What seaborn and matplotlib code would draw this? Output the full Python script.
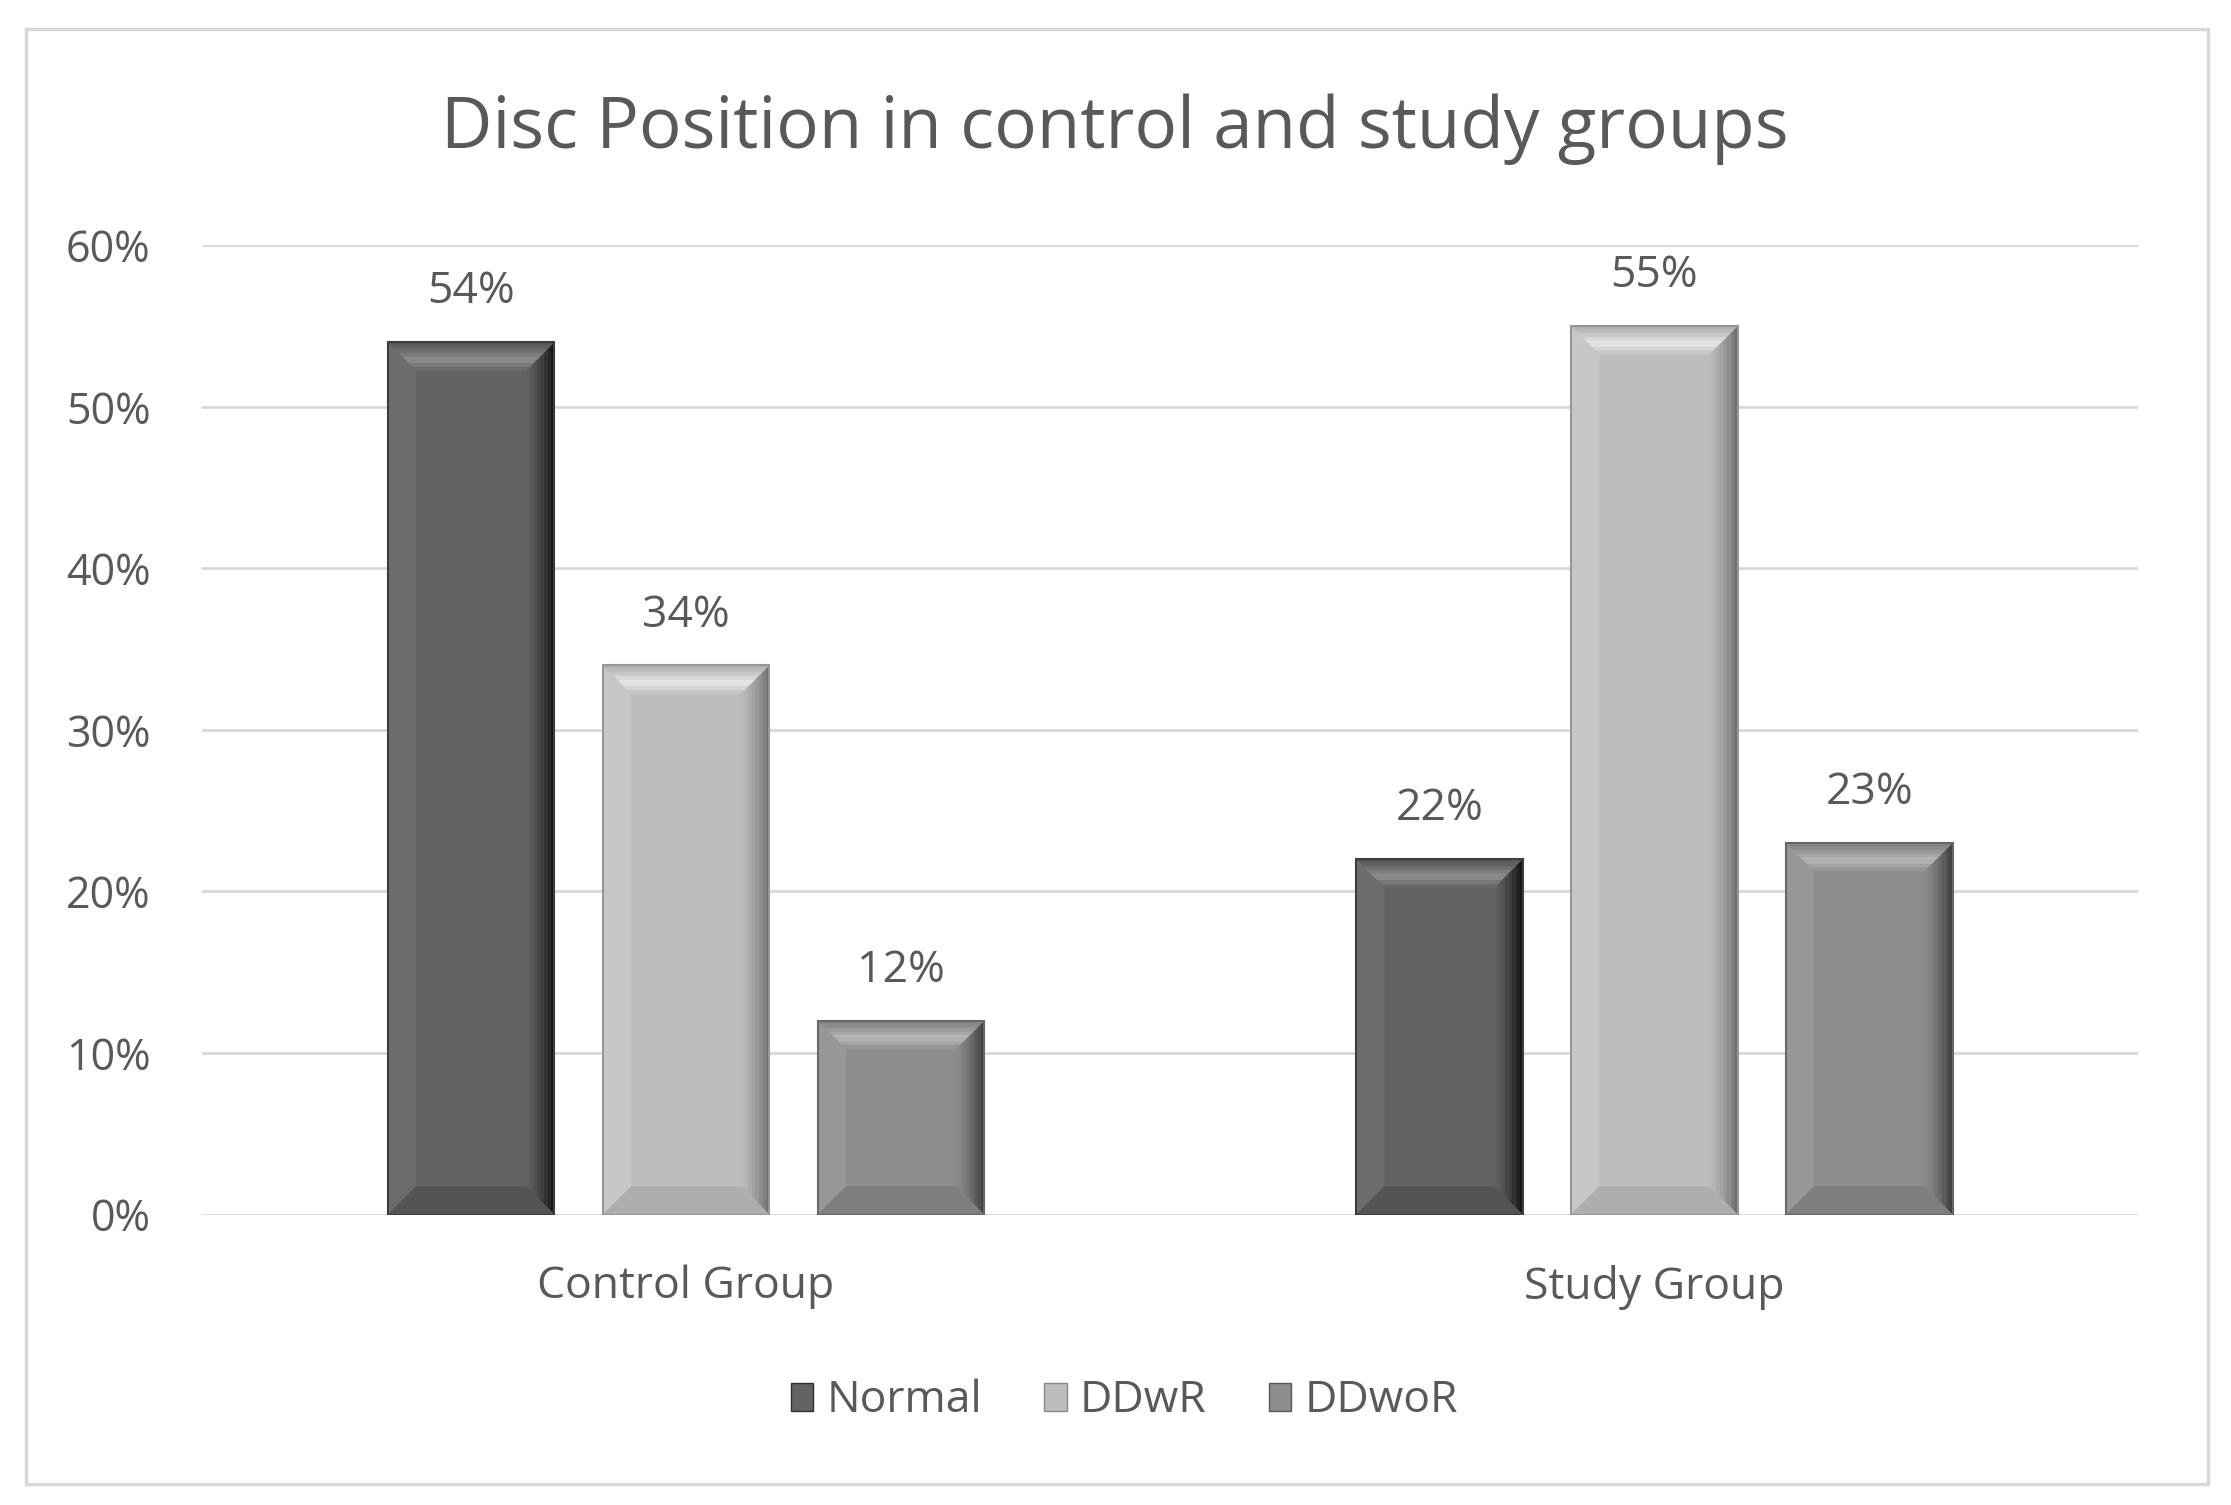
import pandas as pd
import numpy as np
import matplotlib
matplotlib.use("Agg")
import matplotlib.pyplot as plt
import seaborn as sns
from matplotlib.patches import Polygon, Rectangle
from matplotlib.ticker import FuncFormatter

# data
groups = ["Control Group", "Study Group"]
positions = ["Normal", "DDwR", "DDwoR"]
control_vals = [54, 34, 12]
study_vals = [22, 55, 23]
colors = {"Normal": "#636363", "DDwR": "#bdbdbd", "DDwoR": "#8d8d8d"}

rows = []
for g, vals in zip(groups, [control_vals, study_vals]):
    for p, v in zip(positions, vals):
        rows.append({"Group": g, "Position": p, "Value": v / 100})
df = pd.DataFrame(rows)

sns.set_theme(style="white")
plt.rcParams["font.family"] = ["Open Sans", "DejaVu Sans"]
text_col = "#595959"

fig = plt.figure(figsize=(22.31, 15.05), dpi=100)
ax = fig.add_axes([0.0905, 0.193, 0.868, 0.644])

sns.barplot(data=df, x="Group", y="Value", hue="Position", palette=colors,
            width=0.666, gap=0.225, ax=ax, legend=False, saturation=1,
            edgecolor="none")

ax.set_ylim(0, 0.6)
ax.set_xlim(-0.5, 1.5)
ax.set_yticks(np.arange(0, 0.61, 0.1))
ax.yaxis.set_major_formatter(FuncFormatter(lambda v, _: f"{v:.0%}"))
ax.grid(axis="y", color="#d9d9d9", linewidth=2)
ax.set_axisbelow(True)
for s in ax.spines.values():
    s.set_visible(False)
ax.set_xlabel("")
ax.set_ylabel("")
ax.tick_params(axis="y", labelsize=31, labelcolor=text_col, length=0, pad=37)
ax.tick_params(axis="x", labelsize=32, labelcolor=text_col, length=0, pad=36)

# bevel effect on each bar
bars = list(ax.patches)
inv = ax.transData
p0 = inv.transform((0, 0))
p1 = inv.transform((1, 1))
px_x = p1[0] - p0[0]
px_y = p1[1] - p0[1]
for bar in bars:
    x, w, h = bar.get_x(), bar.get_width(), bar.get_height()
    base = np.array(bar.get_facecolor()[:3])
    # bevel corners at 45 degrees in pixel space
    d_px = 0.17 * w * px_x
    d = d_px / px_x
    t = d_px / px_y
    light = np.clip(base + 0.18, 0, 1)
    dark = np.clip(base - 0.3, 0, 1)
    n = 8
    # left strip
    ax.add_patch(Polygon([(x, 0), (x, h), (x + d, h - t), (x + d, t)],
                         closed=True, facecolor=np.clip(base + 0.04, 0, 1),
                         edgecolor="none", zorder=3))
    # right strip, darker toward edge
    for i in range(n):
        f0, f1 = i / n, (i + 1) / n
        c = base + (dark - base) * f1 ** 1.5
        ax.add_patch(Polygon([(x + w - d + d * f0, t * (1 - f0)),
                              (x + w - d + d * f1, t * (1 - f1)),
                              (x + w - d + d * f1, h - t * (1 - f1)),
                              (x + w - d + d * f0, h - t * (1 - f0))],
                             closed=True, facecolor=c, edgecolor="none", zorder=3))
    # bottom strip
    ax.add_patch(Polygon([(x, 0), (x + w, 0), (x + w - d, t), (x + d, t)],
                         closed=True, facecolor=np.clip(base - 0.06, 0, 1),
                         edgecolor="none", zorder=3))
    # top bevel, bright band in the middle
    for i in range(n):
        f0, f1 = i / n, (i + 1) / n
        c = light + (base - 0.04 - light) * min(1, abs(f0 - 0.55) * 2)
        c = np.clip(c, 0, 1)
        ax.add_patch(Polygon([(x + d * f0, h - t * f0), (x + w - d * f0, h - t * f0),
                              (x + w - d * f1, h - t * f1), (x + d * f1, h - t * f1)],
                             closed=True, facecolor=c, edgecolor="none", zorder=4))
    ax.add_patch(Rectangle((x, 0), w, h, facecolor="none",
                           edgecolor=np.clip(base - 0.15, 0, 1), linewidth=1.5, zorder=5))

for cont in ax.containers:
    ax.bar_label(cont, labels=[f"{v * 100:.0f}%" for v in cont.datavalues],
                 padding=20, fontsize=32, color=text_col)

fig.text(0.4995, 0.914, "Disc Position in control and study groups",
         ha="center", va="center", fontsize=51, color=text_col)

handles = [Rectangle((0, 0), 1, 1, facecolor=colors[p],
                     edgecolor=np.clip(np.array(matplotlib.colors.to_rgb(colors[p])) - 0.2, 0, 1))
           for p in positions]
fig.legend(handles, positions, loc="center", bbox_to_anchor=(0.504, 0.069),
           ncol=3, frameon=False, fontsize=32, labelcolor=text_col,
           handlelength=0.5, handleheight=0.6, handletextpad=0.3, columnspacing=1.4)

fig.add_artist(Rectangle((0.0115, 0.014), 0.978, 0.967, transform=fig.transFigure,
                         fill=False, edgecolor="#d9d9d9", linewidth=2.5))

fig.savefig("out.png", dpi=100, facecolor="white")
